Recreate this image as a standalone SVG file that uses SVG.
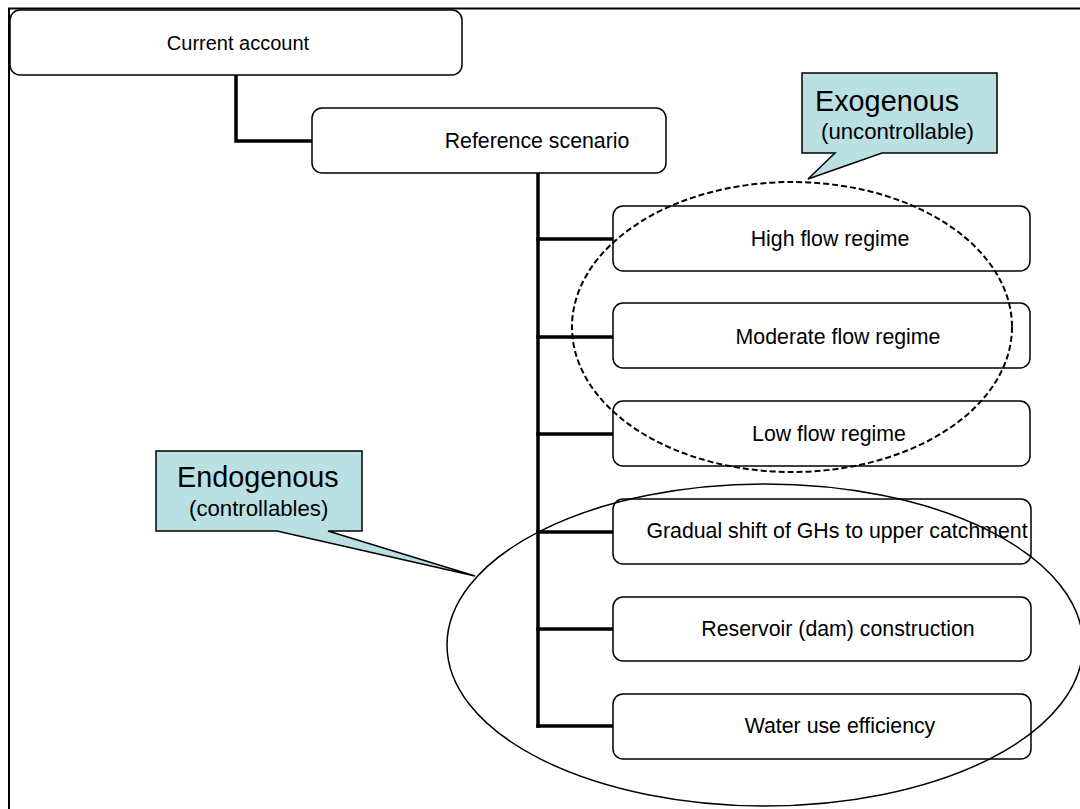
<svg xmlns="http://www.w3.org/2000/svg" width="1080" height="809" viewBox="0 0 1080 809">
  <defs>
    <style>
      .box { fill: #ffffff; stroke: #000000; stroke-width: 1.5; }
      .lbl { font-family: "Liberation Sans", Arial, sans-serif; font-size: 21.3px; fill: #000000; text-anchor: middle; }
      .top { font-size: 20px; }
      .conn { fill: none; stroke: #000000; stroke-width: 3.5; stroke-linecap: square; }
      .callout { fill: #BAE0E3; stroke: #000000; stroke-width: 1.5; stroke-linejoin: miter; }
      .big { font-family: "Liberation Sans", Arial, sans-serif; font-size: 28.8px; fill: #000000; }
      .small { font-family: "Liberation Sans", Arial, sans-serif; font-size: 22.2px; fill: #000000; }
    </style>
  </defs>
  <rect width="1080" height="809" fill="#ffffff"/>
  <!-- page frame (runs off the right and bottom edges) -->
  <rect x="9" y="8.5" width="1100" height="840" fill="none" stroke="#000000" stroke-width="2"/>

  <!-- tree connectors -->
  <g id="connectors">
    <polyline class="conn" points="236,75 236,141 312,141"/>
    <line class="conn" x1="538" y1="173" x2="538" y2="726"/>
    <line class="conn" x1="538" y1="239" x2="613" y2="239"/>
    <line class="conn" x1="538" y1="337" x2="613" y2="337"/>
    <line class="conn" x1="538" y1="434" x2="613" y2="434"/>
    <line class="conn" x1="538" y1="532" x2="613" y2="532"/>
    <line class="conn" x1="538" y1="629" x2="613" y2="629"/>
    <line class="conn" x1="538" y1="726" x2="613" y2="726"/>
  </g>

  <g id="current-account">
    <rect class="box" x="10" y="10" width="452" height="65" rx="10"/>
    <text class="lbl top" x="238" y="50">Current account</text>
  </g>
  <g id="reference-scenario">
    <rect class="box" x="312" y="108" width="354" height="65" rx="10"/>
    <text class="lbl" x="537" y="148">Reference scenario</text>
  </g>
  <g id="high-flow">
    <rect class="box" x="613" y="206" width="417" height="65" rx="10"/>
    <text class="lbl" x="830" y="246">High flow regime</text>
  </g>
  <g id="moderate-flow">
    <rect class="box" x="613" y="303" width="417" height="65" rx="10"/>
    <text class="lbl" x="838" y="344">Moderate flow regime</text>
  </g>
  <g id="low-flow">
    <rect class="box" x="613" y="401" width="417" height="65" rx="10"/>
    <text class="lbl" x="829" y="441">Low flow regime</text>
  </g>
  <g id="gradual-shift">
    <rect class="box" x="613" y="499" width="418" height="65" rx="10"/>
    <text class="lbl" x="837" y="538">Gradual shift of GHs to upper catchment</text>
  </g>
  <g id="reservoir">
    <rect class="box" x="613" y="597" width="418" height="64" rx="10"/>
    <text class="lbl" x="838" y="636">Reservoir (dam) construction</text>
  </g>
  <g id="water-use">
    <rect class="box" x="613" y="694" width="418" height="65" rx="10"/>
    <text class="lbl" x="840" y="733">Water use efficiency</text>
  </g>

  <!-- grouping ellipses -->
  <g id="exogenous-group">
    <ellipse cx="792" cy="327" rx="220" ry="145" fill="none" stroke="#000000" stroke-width="2" stroke-dasharray="6,3"/>
  </g>
  <g id="endogenous-group">
    <ellipse cx="765" cy="645" rx="318" ry="161" fill="none" stroke="#000000" stroke-width="1.5"/>
  </g>

  <!-- callouts -->
  <g id="exogenous-callout">
    <path class="callout" d="M802,73 H997 V153 H882 L808,179 L835,153 H802 Z"/>
    <text class="big" x="815" y="111">Exogenous</text>
    <text class="small" x="821" y="139">(uncontrollable)</text>
  </g>
  <g id="endogenous-callout">
    <path class="callout" d="M156,451 H362 V531 H328 L475,576 L277,531 H156 Z"/>
    <text class="big" x="177" y="487">Endogenous</text>
    <text class="small" x="189" y="516">(controllables)</text>
  </g>
</svg>
